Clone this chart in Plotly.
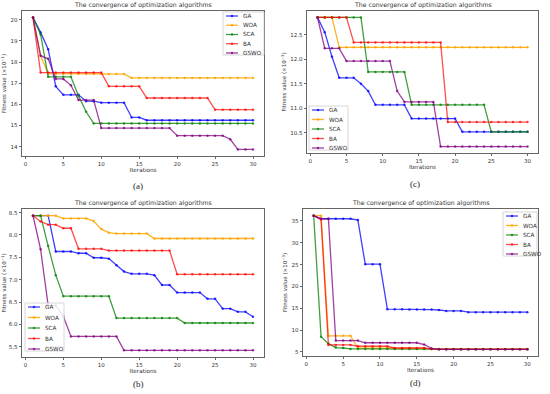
import plotly.graph_objects as go

iters = list(range(1, 31))
names = ["GA", "WOA", "SCA", "BA", "GSWO"]
colors = ["rgba(0,0,255,0.75)", "rgba(255,165,0,0.85)", "rgba(0,128,0,0.75)", "rgba(255,0,0,0.7)", "rgba(128,0,128,0.75)"]

# Panel (a)
a_GA = [20.1, 19.4, 18.6, 16.85, 16.45, 16.45, 16.45, 16.15, 16.15, 16.08, 16.08, 16.08, 16.08, 15.38, 15.38] + [15.25] * 15
a_WOA = [20.1, 18.3, 17.45, 17.45, 17.45, 17.45, 17.45, 17.45, 17.45, 17.45, 17.43, 17.43, 17.43] + [17.25] * 17
a_SCA = [20.1, 19.3, 17.3, 17.3, 17.3, 17.3, 16.4, 15.65] + [15.1] * 22
a_BA = [20.1] + [17.5] * 9 + [16.85] * 5 + [16.3] * 9 + [15.75] * 6
a_GSWO = [20.1, 18.3, 18.15, 17.2, 17.2, 16.9, 16.2, 16.2, 16.2] + [14.88] * 10 + [14.52] * 7 + [14.35, 13.87, 13.87, 13.87]

# Panel (c)
c_GA = [12.85, 12.55, 12.05, 11.62, 11.62, 11.62, 11.5, 11.35] + [11.07] * 5 + [10.79] * 7 + [10.52] * 10
c_WOA = [12.85, 12.85, 12.85] + [12.24] * 27
c_SCA = [12.85] * 7 + [11.74] * 6 + [11.07] * 11 + [10.52] * 6
c_BA = [12.85] * 5 + [12.34] * 13 + [10.72] * 12
c_GSWO = [12.85, 12.22, 12.22, 12.22] + [11.96] * 7 + [11.35] + [11.13] * 5 + [10.22] * 13

# Panel (b)
b_GA = [8.43, 8.43, 8.43, 7.63, 7.63, 7.63, 7.59, 7.59, 7.49, 7.49, 7.47, 7.32, 7.18, 7.13, 7.13, 7.13, 7.10, 6.88, 6.88, 6.71, 6.71, 6.71, 6.71, 6.57, 6.57, 6.35, 6.35, 6.28, 6.28, 6.17]
b_WOA = [8.43, 8.43, 8.43, 8.43, 8.37, 8.37, 8.37, 8.37, 8.31, 8.13, 8.05, 8.03, 8.03, 8.03, 8.03, 8.03] + [7.92] * 14
b_SCA = [8.43, 8.43, 7.75, 7.10] + [6.63] * 7 + [6.14] * 9 + [6.03] * 10
b_BA = [8.43, 8.30, 8.23, 8.23, 8.15, 8.15, 7.69, 7.69, 7.69, 7.69] + [7.65] * 9 + [7.12] * 11
b_GSWO = [8.43, 7.68, 6.42, 6.42, 6.18] + [5.73] * 7 + [5.42] * 18

# Panel (d)
d_GA = [36.2, 35.5, 35.5, 35.5, 35.5, 35.5, 35.2, 25.1, 25.1, 25.1, 14.8, 14.8, 14.8, 14.7, 14.7, 14.7, 14.7, 14.6, 14.4, 14.4, 14.4] + [14.1] * 9
d_WOA = [36.2, 36.2, 8.7, 8.7, 8.7, 8.7, 5.9, 5.9, 5.9, 5.9, 5.9, 5.8, 5.8, 5.8, 5.8, 5.8, 5.7] + [5.7] * 13
d_SCA = [36.2, 8.5, 6.9, 6.0, 5.9] + [5.7] * 12 + [5.6] * 13
d_BA = [36.2, 35.3, 6.6, 6.6, 6.6, 6.6, 6.3, 6.3, 6.3, 6.3, 6.3] + [5.9] * 5 + [5.7] + [5.6] * 13
d_GSWO = [36.2, 35.5, 35.5, 7.6, 7.6, 7.6, 7.6] + [7.1] * 8 + [6.7, 5.8] + [5.6] * 13

W, H = 550, 394
def px(x):
    return x / W
def py(y):
    return 1 - y / H

panels = [
    dict(series=[a_GA, a_WOA, a_SCA, a_BA, a_GSWO], xd=[22, 264], yd=[11, 156], yr=[13.56, 20.41],
         yt=[14, 15, 16, 17, 18, 19, 20], fmt="d", exp="−1", leg=(223, 12, 41, 43), label="(a)", lpos=(138, 186)),
    dict(series=[c_GA, c_WOA, c_SCA, c_BA, c_GSWO], xd=[307, 538], yd=[11, 153], yr=[10.09, 12.98],
         yt=[10.5, 11.0, 11.5, 12.0, 12.5], fmt=".1f", exp="−3", leg=(309, 106, 39, 44), label="(c)", lpos=(415, 184)),
    dict(series=[b_GA, b_WOA, b_SCA, b_BA, b_GSWO], xd=[22, 264], yd=[209, 357], yr=[5.27, 8.58],
         yt=[5.5, 6.0, 6.5, 7.0, 7.5, 8.0, 8.5], fmt=".1f", exp="−1", leg=(25, 303, 39, 48), label="(b)", lpos=(138, 384)),
    dict(series=[d_GA, d_WOA, d_SCA, d_BA, d_GSWO], xd=[303, 538], yd=[209, 356], yr=[4.07, 37.73],
         yt=[5, 10, 15, 20, 25, 30, 35], fmt="d", exp="−3", leg=(503, 212, 34, 44), label="(d)", lpos=(415, 383)),
]

fig = go.Figure()
layout = dict(width=W, height=H, margin=dict(l=0, r=0, t=0, b=0), showlegend=False,
              paper_bgcolor="white", plot_bgcolor="white",
              font=dict(family="DejaVu Sans", size=6, color="#333"))
annotations = []
shapes = []
for i, p in enumerate(panels):
    sfx = "" if i == 0 else str(i + 1)
    for name, col, ys in zip(names, colors, p["series"]):
        fig.add_trace(go.Scatter(x=iters, y=ys, name=name, mode="lines+markers",
                                 line=dict(color=col, width=1.3),
                                 marker=dict(color=col, size=2.5),
                                 xaxis="x" + sfx, yaxis="y" + sfx))
    axstyle = dict(showline=True, mirror=True, linecolor="#666", linewidth=0.8,
                   ticks="outside", ticklen=2.5, tickcolor="#666", showgrid=False, zeroline=False,
                   tickfont=dict(size=5.5, color="#333"))
    xd = [px(p["xd"][0]), px(p["xd"][1])]
    yd = [py(p["yd"][1]), py(p["yd"][0])]
    layout["xaxis" + sfx] = dict(domain=xd, range=[-0.45, 31.45], tickvals=[0, 5, 10, 15, 20, 25, 30],
                                 anchor="y" + sfx, title=dict(text="Iterations", font=dict(size=5.7), standoff=2), **axstyle)
    layout["yaxis" + sfx] = dict(domain=yd, range=p["yr"], tickvals=p["yt"], tickformat=p["fmt"], anchor="x" + sfx,
                                 title=dict(text="Fitness value (×10<sup>" + p["exp"] + "</sup>)", font=dict(size=5.5), standoff=3), **axstyle)
    annotations.append(dict(text="The convergence of optimization algorithms", x=(xd[0] + xd[1]) / 2, y=yd[1],
                            xref="paper", yref="paper", xanchor="center", yanchor="bottom", yshift=0,
                            showarrow=False, font=dict(size=6.2, color="#333")))
    annotations.append(dict(text=p["label"], x=px(p["lpos"][0]), y=py(p["lpos"][1]), xref="paper", yref="paper",
                            xanchor="center", yanchor="middle", showarrow=False,
                            font=dict(family="Liberation Serif", size=9, color="#222")))
    # manual compact legend
    lx, ly, lw, lh = p["leg"]
    shapes.append(dict(type="rect", xref="paper", yref="paper", x0=px(lx), x1=px(lx + lw), y0=py(ly + lh), y1=py(ly),
                       line=dict(color="#ccc", width=0.8), fillcolor="rgba(255,255,255,0.85)", layer="above"))
    step = (lh - 6) / 4.0
    for k, (name, col) in enumerate(zip(names, colors)):
        yy = ly + 4 + k * step
        shapes.append(dict(type="line", xref="paper", yref="paper", x0=px(lx + 3), x1=px(lx + 15), y0=py(yy), y1=py(yy),
                           line=dict(color=col, width=1.3), layer="above"))
        shapes.append(dict(type="circle", xref="paper", yref="paper", x0=px(lx + 8), x1=px(lx + 10), y0=py(yy + 1), y1=py(yy - 1),
                           line=dict(color=col, width=0.5), fillcolor=col, layer="above"))
        annotations.append(dict(text=name, x=px(lx + 18), y=py(yy), xref="paper", yref="paper", xanchor="left",
                                yanchor="middle", showarrow=False, font=dict(size=5.7, color="#333")))
layout["annotations"] = annotations
layout["shapes"] = shapes
fig.update_layout(**layout)
fig.write_html("out.html", config={"displayModeBar": False},
               post_script="document.body.style.margin='0';document.body.style.overflow='hidden';")
